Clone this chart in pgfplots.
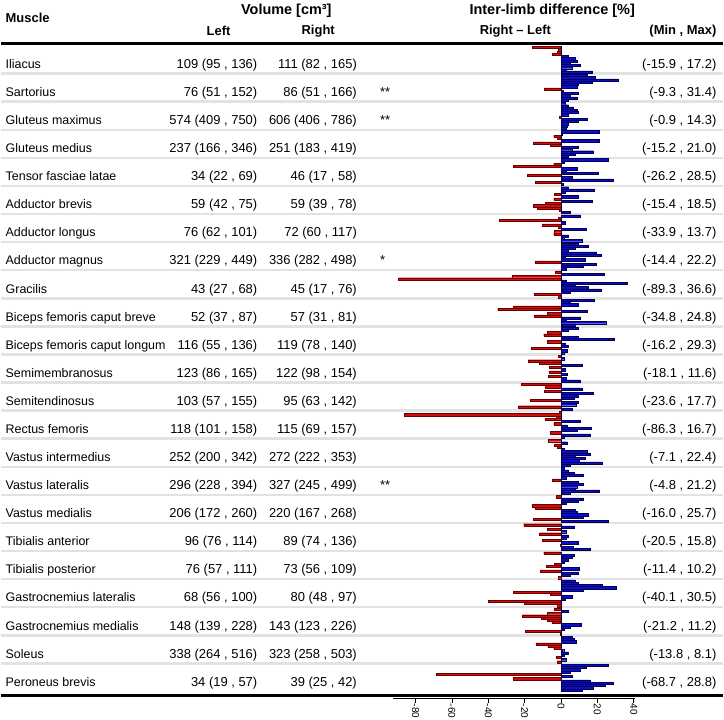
\documentclass[border=0pt]{standalone}
\usepackage{fontspec}
\setmainfont{Liberation Sans}
\usepackage{pgfplots}
\usepackage{pgfplotstable}
\pgfplotsset{compat=1.18}

\definecolor{bred}{RGB}{214,12,12}
\definecolor{bredd}{RGB}{105,0,0}
\definecolor{bblue}{RGB}{12,12,214}
\definecolor{bblued}{RGB}{0,0,75}
\definecolor{sep}{RGB}{226,226,226}

% inter-limb differences (Right - Left, %), 12 subjects per muscle, top to bottom
\pgfplotstableread{
r v1 v2 v3 v4 v5 v6 v7 v8 v9 v10 v11 v12
0 -15.9 -1.5 -2.0 -4.9 4.2 7.8 8.7 5.0 10.5 6.0 3.0 17.2
1 14.2 18.7 31.4 16.9 9.6 8.7 -9.3 1.1 9.6 5.1 8.7 4.2
2 2.4 4.2 6.9 8.7 9.6 4.2 -0.9 14.3 9.6 4.2 3.3 2.7
3 21.0 0.5 -4.0 -2.2 21.0 -15.2 -5.8 9.6 6.0 17.8 7.8 4.2
4 26.0 2.0 -4.0 -26.2 8.7 2.9 20.6 -18.6 6.0 28.5 -14.0 1.0
5 4.2 18.5 2.4 -3.5 9.6 -4.0 17.3 -8.6 -15.4 -13.1 -1.0 5.1
6 10.6 -1.3 -33.9 2.4 -10.4 -1.3 13.7 -3.5 -4.0 4.2 1.5 11.5
7 9.6 15.1 7.8 4.0 19.6 22.2 2.4 13.3 -14.4 19.6 12.0 3.0
8 -3.0 23.8 -27.0 -89.3 3.0 36.6 8.0 15.1 22.0 5.0 -14.9 -1.5
9 18.4 5.1 9.6 -26.4 -34.8 14.2 -7.6 -14.9 10.6 3.0 24.8 8.0
10 9.3 4.2 -7.6 -9.5 9.3 29.3 -7.6 2.4 4.2 -16.2 3.3 1.5
11 -1.6 2.0 -18.1 -11.8 11.6 -6.7 2.4 -6.7 3.3 -7.0 3.0 10.5
12 -21.7 -8.6 11.5 -9.0 17.7 9.6 7.0 -16.7 9.6 8.2 -23.6 6.0
13 -1.0 -86.3 -2.5 -8.9 10.5 -4.0 3.3 16.7 8.7 -5.8 16.0 2.0
14 -7.1 3.3 -3.5 -2.0 2.0 14.2 16.0 7.8 13.3 10.0 22.4 5.0
15 2.0 4.2 7.5 12.4 3.0 -4.8 9.6 12.4 8.7 7.8 21.2 5.0
16 -2.5 12.4 9.6 3.0 -16.0 -14.4 7.8 8.7 15.1 12.4 -15.3 25.7
17 -20.5 7.5 -7.6 3.0 -11.8 4.2 2.7 -10.4 9.6 -0.4 6.9 15.8
18 -9.5 7.5 6.0 4.2 2.0 -3.5 -8.0 10.2 -11.4 9.6 5.0 -1.6
19 7.8 9.3 22.4 30.5 12.0 -26.4 -5.8 6.0 2.4 -40.1 -20.0 -2.0
20 -3.6 4.2 -7.6 -21.2 -10.7 -7.6 -5.0 11.2 5.1 2.0 -19.8 -0.5
21 6.0 7.5 8.1 -13.8 -7.3 -4.0 1.5 4.2 2.0 -2.7 3.0 -2.2
22 26.0 13.6 10.5 5.0 -68.7 6.4 -26.2 16.0 28.8 24.2 17.8 11.5
}\diffdata

\newcommand{\row}[6]{%
  \pgfmathsetmacro{\yy}{46.5+28.2*#1+18.7}%
  \node[anchor=mid west,font=\fontsize{12.5}{14}\selectfont] at (4,\yy) {#2};%
  \node[anchor=mid east] at (257,\yy) {#3};%
  \node[anchor=mid east] at (357,\yy) {#4};%
  \node[anchor=mid west] at (380,\yy) {#5};%
  \node[anchor=mid east] at (718,\yy) {#6};%
}

\begin{document}
\fontsize{13}{15}\selectfont
\begin{tikzpicture}
\begin{scope}[x=1pt,y=-1pt]
\path[use as bounding box] (0,0) rectangle (724,720);
% separators
\foreach \i in {1,...,22}{
  \pgfmathsetmacro{\ys}{46.5+28.2*\i-0.8}
  \draw[sep,line width=2.5pt] (0,\ys) -- (724,\ys);
}
\end{scope}

\begin{axis}[
  at={(392.9pt,-701.5pt)}, anchor=south west,
  scale only axis, width=242.9pt, height=657pt,
  xmin=-92.5, xmax=40.5, ymin=18.5, ymax=675.5,
  axis y line=none, axis x line*=bottom,
  x axis line style={black,line width=0.8pt},
  xtick={-80,-60,-40,-20,0,20,40},
  xticklabels={-80,-60,-40,-20,0,20,40},
  xtick align=outside, major tick length=4pt,
  tick style={black,line width=0.6pt},
  xticklabel style={rotate=-90,anchor=west,font=\fontsize{10}{11}\selectfont,inner sep=1pt},
  ytick=\empty, clip=false,
]
\pgfplotsinvokeforeach{1,...,12}{
  \addplot[xbar, bar width=2.25, bar shift=0pt, fill=bred, draw=bredd, line width=0.4pt]
    table[x expr={min(\thisrow{v#1},0)}, y expr={720-(46.5+28.2*\thisrow{r}+(#1-0.5)*2.25)}] {\diffdata};
  \addplot[xbar, bar width=2.25, bar shift=0pt, fill=bblue, draw=bblued, line width=0.4pt]
    table[x expr={max(\thisrow{v#1},0)}, y expr={720-(46.5+28.2*\thisrow{r}+(#1-0.5)*2.25)}] {\diffdata};
}
\end{axis}

\begin{scope}[x=1pt,y=-1pt,every node/.style={inner sep=0pt}]
\draw[black,line width=3pt] (0,44) -- (724,44);
\draw[black,line width=3pt] (0,698.3) -- (724,698.3);
% header
\node[anchor=mid west,font=\bfseries] at (4,19.3) {Muscle};
\node[font=\fontsize{14.5}{16}\selectfont\bfseries] at (286,11) {Volume [cm³]};
\node[font=\bfseries] at (218,31) {Left};
\node[font=\bfseries] at (318,31) {Right};
\node[font=\fontsize{14.5}{16}\selectfont\bfseries] at (553,11) {Inter-limb difference [\%]};
\node[font=\bfseries] at (516,31) {Right -- Left};
\node[anchor=east,font=\bfseries] at (718,31) {(Min , Max)};
% rows
\row{0}{Iliacus}{109 (95 , 136)}{111 (82 , 165)}{}{(-15.9 , 17.2)}
\row{1}{Sartorius}{76 (51 , 152)}{86 (51 , 166)}{**}{(-9.3 , 31.4)}
\row{2}{Gluteus maximus}{574 (409 , 750)}{606 (406 , 786)}{**}{(-0.9 , 14.3)}
\row{3}{Gluteus medius}{237 (166 , 346)}{251 (183 , 419)}{}{(-15.2 , 21.0)}
\row{4}{Tensor fasciae latae}{34 (22 , 69)}{46 (17 , 58)}{}{(-26.2 , 28.5)}
\row{5}{Adductor brevis}{59 (42 , 75)}{59 (39 , 78)}{}{(-15.4 , 18.5)}
\row{6}{Adductor longus}{76 (62 , 101)}{72 (60 , 117)}{}{(-33.9 , 13.7)}
\row{7}{Adductor magnus}{321 (229 , 449)}{336 (282 , 498)}{*}{(-14.4 , 22.2)}
\row{8}{Gracilis}{43 (27 , 68)}{45 (17 , 76)}{}{(-89.3 , 36.6)}
\row{9}{Biceps femoris caput breve}{52 (37 , 87)}{57 (31 , 81)}{}{(-34.8 , 24.8)}
\row{10}{Biceps femoris caput longum}{116 (55 , 136)}{119 (78 , 140)}{}{(-16.2 , 29.3)}
\row{11}{Semimembranosus}{123 (86 , 165)}{122 (98 , 154)}{}{(-18.1 , 11.6)}
\row{12}{Semitendinosus}{103 (57 , 155)}{95 (63 , 142)}{}{(-23.6 , 17.7)}
\row{13}{Rectus femoris}{118 (101 , 158)}{115 (69 , 157)}{}{(-86.3 , 16.7)}
\row{14}{Vastus intermedius}{252 (200 , 342)}{272 (222 , 353)}{}{(-7.1 , 22.4)}
\row{15}{Vastus lateralis}{296 (228 , 394)}{327 (245 , 499)}{**}{(-4.8 , 21.2)}
\row{16}{Vastus medialis}{206 (172 , 260)}{220 (167 , 268)}{}{(-16.0 , 25.7)}
\row{17}{Tibialis anterior}{96 (76 , 114)}{89 (74 , 136)}{}{(-20.5 , 15.8)}
\row{18}{Tibialis posterior}{76 (57 , 111)}{73 (56 , 109)}{}{(-11.4 , 10.2)}
\row{19}{Gastrocnemius lateralis}{68 (56 , 100)}{80 (48 , 97)}{}{(-40.1 , 30.5)}
\row{20}{Gastrocnemius medialis}{148 (139 , 228)}{143 (123 , 226)}{}{(-21.2 , 11.2)}
\row{21}{Soleus}{338 (264 , 516)}{323 (258 , 503)}{}{(-13.8 , 8.1)}
\row{22}{Peroneus brevis}{34 (19 , 57)}{39 (25 , 42)}{}{(-68.7 , 28.8)}
\end{scope}
\end{tikzpicture}
\end{document}
